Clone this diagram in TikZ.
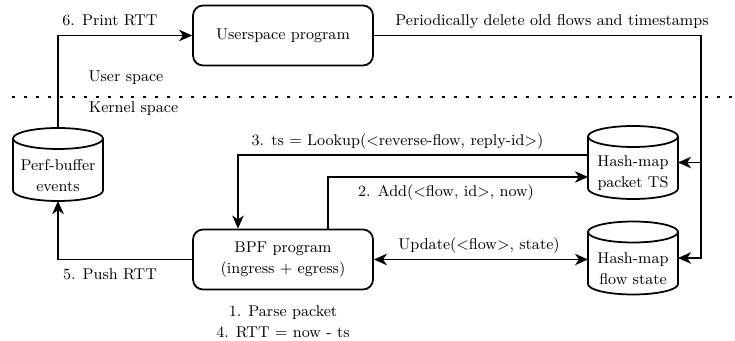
\documentclass[tikz,border=0pt]{standalone}
\usetikzlibrary{positioning,arrows.meta}
\tikzset{
  prog/.style={draw,rounded corners=0.2cm,line width=1pt,minimum width=3.6cm,
    minimum height=1.2cm,align=center},
  store/.style={minimum width=1.8cm,minimum height=1.46cm,inner sep=0pt,outer sep=0pt,
    label={[storetext]center:#1}},
  storetext/.style={align=center,inner sep=0pt,yshift=-0.22cm},
  rim/.style={line width=1pt},
  conn/.style={-{Stealth[length=7.4pt,width=6.5pt,inset=2.2pt]},line width=1pt},
  biconn/.style={{Stealth[length=7.4pt,width=6.5pt,inset=2.2pt]}-{Stealth[length=7.4pt,width=6.5pt,inset=2.2pt]},
    line width=1pt},
  lbl/.style={inner sep=1pt},
  divider/.style={line width=1.7pt,dash pattern=on 1.7pt off 5.1pt},
}

\begin{document}
\begin{tikzpicture}[every node/.style={font=\fontsize{8.9}{12}\selectfont}]
  \useasboundingbox (0,0) rectangle (14.7,-6.82);
  % user space / kernel space border
  \draw[divider] (0.24,-1.94) -- (14.7,-1.94);
  \node[lbl] (uspace) at (2.52,-1.56) {User space};
  \node[lbl] (kspace) at (2.67,-2.18) {Kernel space};
  % programs
  \node[prog] (user) at (5.66,-0.71) {Userspace program};
  \node[prog] (bpf) at (5.66,-5.19) {BPF program\\(ingress + egress)};
  % maps and buffer
  \node[store={Perf-buffer\\events}] (perf) at (1.16,-3.29) {};
  \node[store={Hash-map\\packet TS}] (ts) at (12.66,-3.25) {};
  \node[store={Hash-map\\flow state}] (fstate) at (12.66,-5.16) {};
  \foreach \c in {perf,ts,fstate}{
    \draw[rim] ([yshift=-0.21cm]\c.north) ellipse [x radius=0.9cm,y radius=0.21cm];
    \draw[rim] ([yshift=-0.21cm]\c.north west) -- ([yshift=0.21cm]\c.south west)
      arc[start angle=180,end angle=360,x radius=0.9cm,y radius=0.21cm]
      -- ([yshift=-0.21cm]\c.north east);
  }
  % steps
  \draw[conn] (perf.north) |- (user.west);
  \node[lbl] (print) at (2.2,-0.4) {6. Print RTT};
  \draw[conn] (bpf.west) -| (perf.south);
  \node[lbl] (push) at (2.2,-5.48) {5. Push RTT};
  \draw[conn] ([yshift=0.15cm]ts.west) -| ([xshift=-0.9cm]bpf.north);
  \node[lbl] (lookup) at (7.95,-2.83) {3. ts = Lookup(<reverse-flow, reply-id>)};
  \draw[conn] ([xshift=0.9cm]bpf.north) |- ([yshift=-0.29cm]ts.west);
  \node[lbl] (add) at (8.92,-3.86) {2. Add(<flow, id>, now)};
  \draw[biconn] (bpf.east) -- (bpf.east -| fstate.west);
  \node[lbl] (update) at (9.58,-4.92) {Update(<flow>, state)};
  \draw[conn] (user.east) -| ([xshift=0.46cm]fstate.east) -- (fstate.east);
  \draw[conn] ([xshift=0.46cm]ts.east) -- (ts.east);
  \node[lbl] (purge) at (11.04,-0.44) {Periodically delete old flows and timestamps};
  \node[lbl,align=center] (parse) at (5.66,-6.43) {1. Parse packet\\4. RTT = now - ts};
\end{tikzpicture}
\end{document}
